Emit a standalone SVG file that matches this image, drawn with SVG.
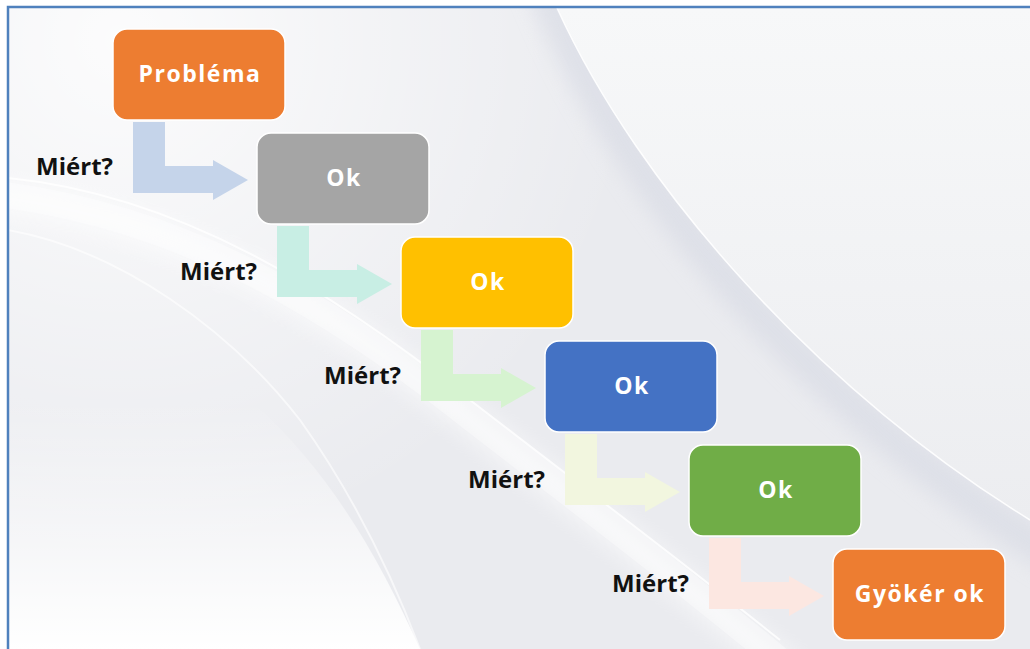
<svg xmlns="http://www.w3.org/2000/svg" width="1030" height="649" viewBox="0 0 1030 649">
  <defs>
    <radialGradient id="tl" cx="120" cy="40" r="520" gradientUnits="userSpaceOnUse">
      <stop offset="0" stop-color="#FFFFFF" stop-opacity="0.85"/>
      <stop offset="1" stop-color="#FFFFFF" stop-opacity="0"/>
    </radialGradient>
    <linearGradient id="rightPane" x1="0" y1="0" x2="0" y2="1">
      <stop offset="0" stop-color="#F7F8F9"/>
      <stop offset="1" stop-color="#ECEDF0"/>
    </linearGradient>
    <linearGradient id="fadeBottom" x1="0" y1="0" x2="0" y2="1">
      <stop offset="0" stop-color="#FFFFFF" stop-opacity="0"/>
      <stop offset="1" stop-color="#FFFFFF" stop-opacity="1"/>
    </linearGradient>
    <filter id="soft" x="-20%" y="-20%" width="140%" height="140%">
      <feGaussianBlur stdDeviation="10"/>
    </filter>
    <clipPath id="frame">
      <rect x="8" y="7" width="1022" height="642"/>
    </clipPath>
    <style>
      .node rect { stroke: #FFFFFF; stroke-width: 1.5; }
      .node text { font-family: "Open Sans", "Liberation Sans", sans-serif; font-weight: 700; font-size: 23px; fill: #FFFFFF; text-anchor: middle; letter-spacing: 1.5px; }
      .lbl { font-family: "Open Sans", "Liberation Sans", sans-serif; font-weight: 700; font-size: 24px; fill: #111111; text-anchor: end; }
    </style>
  </defs>

  <!-- background -->
  <rect x="0" y="0" width="1030" height="649" fill="#FFFFFF"/>
  <g clip-path="url(#frame)">
    <rect x="8" y="7" width="1022" height="642" fill="#EAEBEF"/>
    <rect x="8" y="7" width="1022" height="642" fill="url(#tl)"/>
    <path d="M 535 -40 C 610 170 790 390 1060 560" fill="none" stroke="#D9DCE5" stroke-width="36" opacity="0.7" filter="url(#soft)"/>
    <path d="M 557 8 C 640 190 820 390 1030 520 L 1030 8 Z" fill="url(#rightPane)"/>
    <path d="M 557 8 C 640 190 820 390 1030 520" fill="none" stroke="#FFFFFF" stroke-width="1.5" opacity="0.9"/>
    <path d="M 8 400 L 8 649 L 420 649 C 380 560 330 470 250 400 Z" fill="url(#fadeBottom)"/>
    <path d="M 8 230 C 120 250 230 330 300 420 C 350 490 390 570 420 649" fill="none" stroke="#FFFFFF" stroke-width="2" opacity="0.6"/>
    <path d="M -20 195 C 180 215 330 310 470 420 C 580 505 680 580 800 680" fill="none" stroke="#FFFFFF" stroke-width="32" opacity="0.5" filter="url(#soft)"/>
    <path d="M -20 192 C 180 212 330 307 470 417 C 580 502 680 577 800 677" fill="none" stroke="#FFFFFF" stroke-width="26" opacity="0.35"/>
    <path d="M 8 178 C 180 195 330 290 470 400 C 580 485 680 560 780 640" fill="none" stroke="#FFFFFF" stroke-width="2" opacity="0.8"/>
  </g>

  <!-- border -->
  <path d="M 8 649 L 8 7 L 1030 7" fill="none" stroke="#4F81BD" stroke-width="2.5"/>

  <!-- connectors -->
  <g id="connectors">
    <path fill="#C5D4EA" d="M 133 122 L 165 122 L 165 166 L 213 166 L 213 160 L 248 180 L 213 200 L 213 193 L 133 193 Z"/>
    <path fill="#C8EEE4" d="M 277 226 L 309 226 L 309 270 L 357 270 L 357 264 L 392 284 L 357 304 L 357 297 L 277 297 Z"/>
    <path fill="#D6F3D0" d="M 421 330 L 453 330 L 453 374 L 501 374 L 501 368 L 536 388 L 501 408 L 501 401 L 421 401 Z"/>
    <path fill="#F2F6DF" d="M 565 434 L 597 434 L 597 478 L 645 478 L 645 472 L 680 492 L 645 512 L 645 505 L 565 505 Z"/>
    <path fill="#FCE7E1" d="M 709 538 L 741 538 L 741 582 L 789 582 L 789 576 L 824 596 L 789 616 L 789 609 L 709 609 Z"/>
  </g>

  <!-- labels -->
  <g id="labels">
    <text class="lbl" x="113" y="175">Miért?</text>
    <text class="lbl" x="257" y="280">Miért?</text>
    <text class="lbl" x="401" y="384">Miért?</text>
    <text class="lbl" x="545" y="488">Miért?</text>
    <text class="lbl" x="689" y="592">Miért?</text>
  </g>

  <!-- nodes -->
  <g id="node-problema" class="node">
    <rect x="113" y="29" width="172" height="91" rx="14" fill="#ED7D31"/>
    <text x="200" y="82">Probléma</text>
  </g>
  <g id="node-ok1" class="node">
    <rect x="257" y="133" width="172" height="91" rx="14" fill="#A5A5A5"/>
    <text x="344" y="186">Ok</text>
  </g>
  <g id="node-ok2" class="node">
    <rect x="401" y="237" width="172" height="91" rx="14" fill="#FFC000"/>
    <text x="488" y="290">Ok</text>
  </g>
  <g id="node-ok3" class="node">
    <rect x="545" y="341" width="172" height="91" rx="14" fill="#4472C4"/>
    <text x="632" y="394">Ok</text>
  </g>
  <g id="node-ok4" class="node">
    <rect x="689" y="445" width="172" height="91" rx="14" fill="#70AD47"/>
    <text x="776" y="498">Ok</text>
  </g>
  <g id="node-gyoker" class="node">
    <rect x="833" y="549" width="172" height="91" rx="14" fill="#ED7D31"/>
    <text x="920" y="602">Gyökér ok</text>
  </g>
</svg>
